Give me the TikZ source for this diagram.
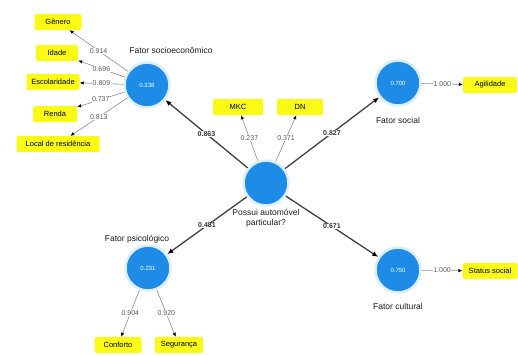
\documentclass[tikz,border=0pt]{standalone}
\usepackage{fontspec}
\setmainfont{Liberation Sans}
\usetikzlibrary{arrows.meta}
\definecolor{lvblue}{RGB}{30,140,230}
\definecolor{indyellow}{RGB}{250,250,20}
\begin{document}
\begin{tikzpicture}[x=1pt,y=-1pt,
  lv/.style={circle,fill=lvblue,draw=lvblue!15,line width=2.5pt,minimum size=45pt,inner sep=0pt,text=white,font=\fontsize{6}{7}\selectfont},
  mv/.style={fill=indyellow,rounded corners=1.5pt,minimum height=16pt,inner sep=1pt,font=\fontsize{7.5}{8}\selectfont},
  lvlab/.style={font=\fontsize{8.5}{9.5}\selectfont,text=black!90,align=center},
  pathline/.style={draw=black!75,line width=1.3pt,-{Latex[length=6pt,width=5pt,fill=black,color=black]}},
  loadline/.style={draw=black!45,line width=0.6pt,-{Latex[length=4pt,width=3.5pt,fill=black,color=black]}},
  num/.style={fill=white,inner sep=0.5pt,font=\fontsize{7}{8}\selectfont,text=black!65},
  coef/.style={fill=white,inner sep=0.5pt,font=\fontsize{7}{8}\selectfont\bfseries,text=black!80}
]
\useasboundingbox (0,0) rectangle (518,354);

% latent variables
\node[lv] (soc) at (147,85) {0.338};
\node[lv] (cen) at (266,183) {};
\node[lv] (sor) at (398,83) {0.700};
\node[lv] (cul) at (398,270) {0.750};
\node[lv] (psi) at (148,268) {0.231};

% labels of latent variables
\node[lvlab] (lsoc) at (171,50) {Fator socioeconômico};
\node[lvlab] (lcen) at (266,218) {Possui automóvel\\particular?};
\node[lvlab] (lsor) at (398,120) {Fator social};
\node[lvlab] (lcul) at (398,306) {Fator cultural};
\node[lvlab] (lpsi) at (137,239) {Fator psicológico};

% indicators
\node[mv,minimum width=47pt] (gen) at (58,22) {Gênero};
\node[mv,minimum width=42pt] (ida) at (57,53) {Idade};
\node[mv,minimum width=53pt] (esc) at (53,82) {Escolaridade};
\node[mv,minimum width=44pt] (ren) at (55,114) {Renda};
\node[mv,minimum width=83pt] (loc) at (58,144) {Local de residência};
\node[mv,minimum width=50pt] (mkc) at (238,107) {MKC};
\node[mv,minimum width=46pt] (dn) at (300,107) {DN};
\node[mv,minimum width=54pt] (agi) at (490,85) {Agilidade};
\node[mv,minimum width=55pt] (sta) at (490,271) {Status social};
\node[mv,minimum width=47pt] (con) at (118,345) {Conforto};
\node[mv,minimum width=48pt] (seg) at (179,345) {Segurança};

% loadings
\draw[loadline] (soc) -- node[num] {0.914} (gen);
\draw[loadline] (soc) -- node[num] {0.696} (ida);
\draw[loadline] (soc) -- node[num] {0.809} (esc);
\draw[loadline] (soc) -- node[num] {0.737} (ren);
\draw[loadline] (soc) -- node[num] {0.813} (loc);
\draw[loadline] (cen) -- node[num] {0.237} (mkc);
\draw[loadline] (cen) -- node[num] {0.371} (dn);
\draw[loadline] (sor) -- node[num] {1.000} (agi);
\draw[loadline] (cul) -- node[num] {1.000} (sta);
\draw[loadline] (psi) -- node[num] {0.904} (con);
\draw[loadline] (psi) -- node[num] {0.920} (seg);

% path coefficients
\draw[pathline] (cen) -- node[coef] {0.863} (soc);
\draw[pathline] (cen) -- node[coef] {0.827} (sor);
\draw[pathline] (cen) -- node[coef] {0.671} (cul);
\draw[pathline] (cen) -- node[coef] {0.481} (psi);
\end{tikzpicture}
\end{document}
